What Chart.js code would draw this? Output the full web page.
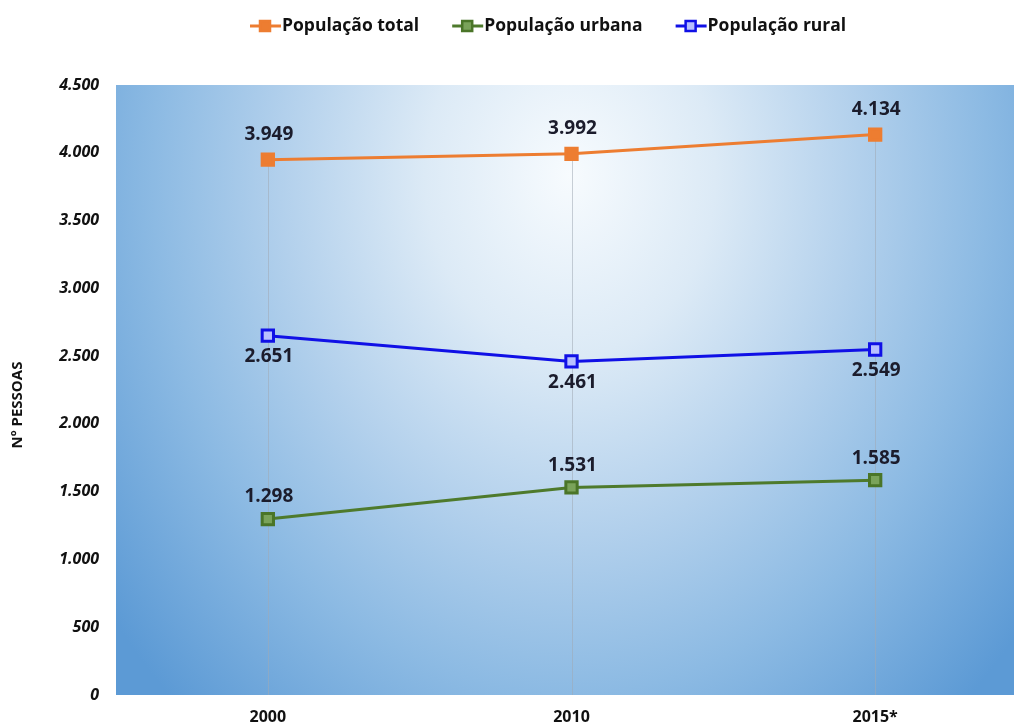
<!DOCTYPE html>
<html>
<head>
<meta charset="utf-8">
<style>
  html, body { margin: 0; padding: 0; background: #ffffff; overflow: hidden; }
  #wrap { width: 1014px; height: 728px; overflow: hidden; }
</style>
<script src="https://cdn.jsdelivr.net/npm/chart.js@4.4.1/dist/chart.umd.min.js"></script>
</head>
<body>
<div id="wrap"><canvas id="chart" width="1038" height="728"></canvas></div>
<script>
// Population series (persons) per census year
const years = ['2000', '2010', '2015*'];
const popTotal = [3949, 3992, 4134];
const popUrbana = [1298, 1531, 1585];
const popRural = [2651, 2461, 2549];
const yTicks = [0, 500, 1000, 1500, 2000, 2500, 3000, 3500, 4000, 4500];
const yTitle = 'Nº PESSOAS';

const FONT = '"Open Sans", "DejaVu Sans", sans-serif';

function fmt(v) {
  return String(v).replace(/\B(?=(\d{3})+(?!\d))/g, '.');
}

// Radial sky-blue fill behind the plot area
const plotBackground = {
  id: 'plotBackground',
  beforeDraw(chart) {
    const { ctx, chartArea: a } = chart;
    const cx = 570, cy = 175, rx = 580, ry = 720;
    ctx.save();
    ctx.beginPath();
    ctx.rect(a.left, a.top, a.right - a.left, a.bottom - a.top);
    ctx.clip();
    ctx.translate(cx, cy);
    ctx.scale(rx / ry, 1);
    const g = ctx.createRadialGradient(0, 0, 0, 0, 0, ry);
    g.addColorStop(0, '#f7fbfe');
    g.addColorStop(0.25, '#dceaf6');
    g.addColorStop(0.5, '#b2d0ec');
    g.addColorStop(0.72, '#8cbae3');
    g.addColorStop(1, '#5c9ad5');
    ctx.fillStyle = g;
    ctx.fillRect(-2000, -2000, 4000, 4000);
    ctx.restore();
  }
};

// Thin drop lines from the highest point of each category to the axis
const dropLines = {
  id: 'dropLines',
  beforeDatasetsDraw(chart) {
    const { ctx, chartArea: a } = chart;
    const n = chart.data.labels.length;
    ctx.save();
    ctx.strokeStyle = 'rgba(160,170,180,0.55)';
    ctx.lineWidth = 1;
    for (let i = 0; i < n; i++) {
      let topY = a.bottom, x = null;
      chart.data.datasets.forEach((ds, di) => {
        const p = chart.getDatasetMeta(di).data[i];
        x = p.x;
        topY = Math.min(topY, p.y);
      });
      ctx.beginPath();
      ctx.moveTo(Math.round(x) + 0.5, topY);
      ctx.lineTo(Math.round(x) + 0.5, a.bottom);
      ctx.stroke();
    }
    ctx.restore();
  }
};

// Value labels next to each point
const valueLabels = {
  id: 'valueLabels',
  afterDatasetsDraw(chart) {
    const { ctx } = chart;
    ctx.save();
    ctx.font = '700 19px ' + FONT;
    ctx.fillStyle = '#1b1c2c';
    ctx.textAlign = 'center';
    ctx.textBaseline = 'middle';
    chart.data.datasets.forEach((ds, di) => {
      const meta = chart.getDatasetMeta(di);
      meta.data.forEach((p, i) => {
        ctx.fillText(fmt(ds.data[i]), p.x + 1, p.y + ds.labelOffset);
      });
    });
    ctx.restore();
  }
};

// Legend row and rotated axis title
const headerAndTitle = {
  id: 'headerAndTitle',
  afterDraw(chart) {
    const { ctx } = chart;
    ctx.save();
    ctx.font = '700 17.5px ' + FONT;
    ctx.textBaseline = 'middle';
    ctx.textAlign = 'left';
    let x = 250;
    const y = 26;
    chart.data.datasets.forEach((ds) => {
      // line segment with square marker
      ctx.strokeStyle = ds.borderColor;
      ctx.lineWidth = 3;
      ctx.beginPath();
      ctx.moveTo(x, y);
      ctx.lineTo(x + 31, y);
      ctx.stroke();
      ctx.fillStyle = ds.pointBackgroundColor;
      ctx.strokeStyle = ds.pointBorderColor;
      ctx.lineWidth = 2.5;
      ctx.fillRect(x + 10, y - 5, 10, 10);
      ctx.strokeRect(x + 10, y - 5, 10, 10);
      ctx.fillStyle = '#111111';
      ctx.fillText(ds.label, x + 32, y);
      x += 32 + ctx.measureText(ds.label).width + 33;
    });

    ctx.translate(18, 405);
    ctx.rotate(-Math.PI / 2);
    ctx.font = '700 15px ' + FONT;
    ctx.textAlign = 'center';
    ctx.fillStyle = '#111111';
    ctx.fillText(yTitle, 0, 0);
    ctx.restore();
  }
};

const ctx = document.getElementById('chart').getContext('2d');
const chart = new Chart(ctx, {
  type: 'line',
  data: {
    labels: years,
    datasets: [
      {
        label: 'População total',
        data: popTotal,
        borderColor: '#ed7d31',
        pointBackgroundColor: '#ed7d31',
        pointBorderColor: '#ed7d31',
        labelOffset: -25
      },
      {
        label: 'População urbana',
        data: popUrbana,
        borderColor: '#4e7a2c',
        pointBackgroundColor: '#7aa35a',
        pointBorderColor: '#4a7528',
        labelOffset: -22
      },
      {
        label: 'População rural',
        data: popRural,
        borderColor: '#1010e6',
        pointBackgroundColor: '#b8c0ff',
        pointBorderColor: '#1010e6',
        labelOffset: 21
      }
    ]
  },
  options: {
    responsive: false,
    animation: false,
    devicePixelRatio: 1,
    layout: { padding: { top: 85, right: 0, bottom: 0, left: 0 } },
    elements: {
      line: { borderWidth: 3, tension: 0, fill: false },
      point: { pointStyle: 'rect', radius: 8, borderWidth: 3 }
    },
    plugins: {
      legend: { display: false },
      tooltip: { enabled: false }
    },
    scales: {
      x: {
        type: 'category',
        offset: true,
        grid: { display: false, drawTicks: false },
        border: { display: false },
        ticks: {
          padding: 13,
          color: '#111111',
          font: { family: FONT, size: 16, weight: '700' }
        },
        afterFit(scale) { scale.height = 33; scale.paddingRight = 0; scale.paddingLeft = 0; }
      },
      y: {
        min: 0,
        max: 4500,
        afterBuildTicks(scale) { scale.ticks = yTicks.map(v => ({ value: v })); },
        grid: { display: false, drawTicks: false },
        border: { display: false },
        ticks: {
          padding: 17,
          color: '#111111',
          font: { family: FONT, size: 16, weight: '700', style: 'italic' },
          callback: (v) => fmt(v)
        },
        afterFit(scale) { scale.width = 116; }
      }
    }
  },
  plugins: [plotBackground, dropLines, valueLabels, headerAndTitle]
});
</script>
</body>
</html>
